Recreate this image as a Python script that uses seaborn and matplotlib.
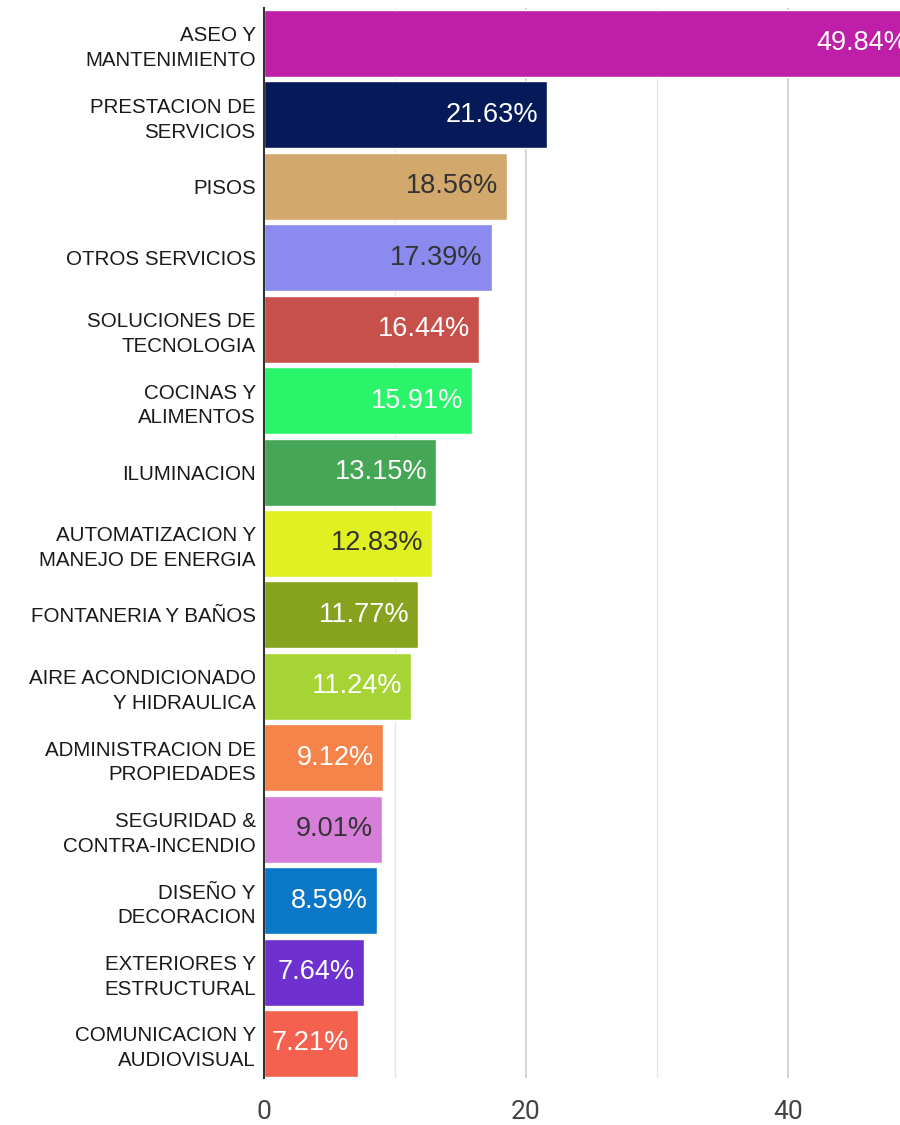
import matplotlib
matplotlib.use("Agg")
import matplotlib.pyplot as plt
import seaborn as sns
import pandas as pd

categories = [
    "ASEO Y\nMANTENIMIENTO",
    "PRESTACION DE\nSERVICIOS",
    "PISOS",
    "OTROS SERVICIOS",
    "SOLUCIONES DE\nTECNOLOGIA",
    "COCINAS Y\nALIMENTOS",
    "ILUMINACION",
    "AUTOMATIZACION Y\nMANEJO DE ENERGIA",
    "FONTANERIA Y BAÑOS",
    "AIRE ACONDICIONADO\nY HIDRAULICA",
    "ADMINISTRACION DE\nPROPIEDADES",
    "SEGURIDAD &\nCONTRA-INCENDIO",
    "DISEÑO Y\nDECORACION",
    "EXTERIORES Y\nESTRUCTURAL",
    "COMUNICACION Y\nAUDIOVISUAL",
]
values = [49.84, 21.63, 18.56, 17.39, 16.44, 15.91, 13.15, 12.83, 11.77, 11.24,
          9.12, 9.01, 8.59, 7.64, 7.21]
colors = ["#BF1EA8", "#061A5A", "#D2A86C", "#8B8AEE", "#C8504A", "#2AF56A",
          "#45A655", "#E1F021", "#86A21F", "#A6D434", "#F5834A", "#D67EDA",
          "#0A78C6", "#6E30CE", "#F5614F"]
label_colors = ["white", "white", "#333333", "#333333", "white", "white",
                "white", "#333333", "white", "white", "white", "#333333",
                "white", "white", "white"]
xticks = [0, 20, 40]

df = pd.DataFrame({"category": categories, "value": values})

sns.set_theme(style="white")
plt.rcParams["font.family"] = ["Liberation Sans", "DejaVu Sans"]

fig = plt.figure(figsize=(9, 11.25), dpi=100)
ax = fig.add_axes([0.2933, 0.0418, 0.7067, 0.9511])

sns.barplot(data=df, y="category", x="value", hue="category",
            palette=dict(zip(categories, colors)), orient="h",
            width=0.938, legend=False, ax=ax, saturation=1)

ax.set_xlim(0, 48.55)
ax.set_ylim(14.483, -0.497)
ax.set_xticks(xticks)
ax.set_xticks([10, 30], minor=True)
ax.grid(True, axis="x", which="major", color="#cccccc", linewidth=1.2)
ax.grid(True, axis="x", which="minor", color="#e6e6e6", linewidth=1.0)
ax.set_axisbelow(True)
ax.set_xlabel("")
ax.set_ylabel("")
for s in ["top", "right", "bottom"]:
    ax.spines[s].set_visible(False)
ax.spines["left"].set_color("#333333")
ax.spines["left"].set_linewidth(1.5)
ax.tick_params(axis="y", length=0, pad=6, labelsize=14.8, labelcolor="#1a1a1a")
ax.tick_params(axis="x", which="both", length=0, pad=16, labelsize=19, labelcolor="#444444")
for lbl in ax.get_xticklabels():
    lbl.set_family(["Roboto", "DejaVu Sans"])
for lbl in ax.get_yticklabels():
    lbl.set_linespacing(1.38)

for i, (v, c) in enumerate(zip(values, label_colors)):
    ax.annotate(f"{v:.2f}%", xy=(v, i), xytext=(-6.5, 0), textcoords="offset points",
                ha="right", va="center", color=c, fontsize=19.5,
                annotation_clip=False)

fig.savefig("out.png", dpi=100)
